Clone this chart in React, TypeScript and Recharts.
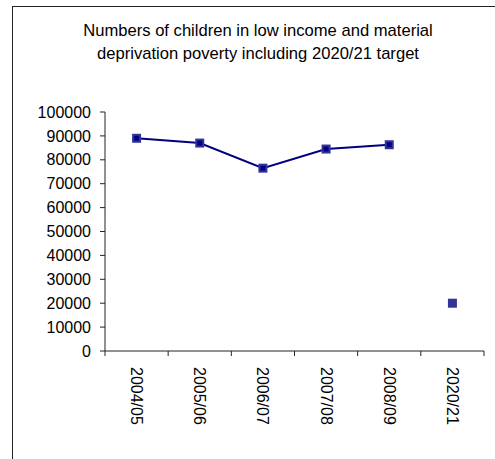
import React from 'react';
import { LineChart, Line, XAxis, YAxis } from 'recharts';

// financial years on the category axis
const years = ['2004/05', '2005/06', '2006/07', '2007/08', '2008/09', '2020/21'];
// children in low income and material deprivation, recorded years
const actual = [89000, 87000, 76500, 84500, 86300, null];
// 2020/21 target
const target = [null, null, null, null, null, 20000];
const yTicks = [0, 10000, 20000, 30000, 40000, 50000, 60000, 70000, 80000, 90000, 100000];

const FONT = '"Liberation Sans", Arial, sans-serif';

// points sit in the middle of each category slot (numeric axis, slots 0..n)
const data = years.map((year, i) => ({
  pos: i + 0.5,
  year,
  actual: actual[i],
  target: target[i],
}));

// ticks at slot boundaries (integers) get a tick mark, slot centres get the year label
const xTicks = Array.from({ length: years.length * 2 + 1 }, (_, i) => i / 2);

const SlotTick = (props: any) => {
  const { x, y, payload } = props;
  const v = payload.value as number;
  if (Number.isInteger(v)) {
    return <line x1={x} y1={y} x2={x} y2={y + 5} stroke="#222" strokeWidth={1} />;
  }
  const label = years[Math.floor(v)];
  return (
    <text
      transform={`translate(${x}, ${y + 16}) rotate(90)`}
      textAnchor="start"
      dominantBaseline="central"
      fontSize={16}
      fontFamily={FONT}
      fill="#000"
    >
      {label}
    </text>
  );
};

const ActualDot = (props: any) => {
  const { cx, cy, value } = props;
  if (value == null || cx == null || cy == null) return null;
  return (
    <g>
      <rect x={cx - 4.5} y={cy - 4.5} width={9} height={9} fill="#333399" />
      <rect x={cx - 2.5} y={cy - 2.5} width={5} height={5} fill="#000080" />
    </g>
  );
};

const TargetDot = (props: any) => {
  const { cx, cy, value } = props;
  if (value == null || cx == null || cy == null) return null;
  return <rect x={cx - 4.5} y={cy - 4.5} width={9} height={9} fill="#333399" />;
};

export default function App() {
  return (
    <div
      style={{
        position: 'absolute',
        left: 0,
        top: 0,
        width: 495,
        height: 459,
        background: '#fff',
        overflow: 'hidden',
        fontFamily: FONT,
      }}
    >
      <div
        style={{
          position: 'absolute',
          left: 12,
          top: 6,
          width: 520,
          height: 480,
          border: '1px solid #222',
        }}
      />
      <div
        style={{
          position: 'absolute',
          left: 48,
          top: 18.5,
          width: 420,
          textAlign: 'center',
          fontSize: 16.6,
          lineHeight: '23.5px',
          color: '#000',
        }}
      >
        Numbers of children in low income and material
        <br />
        deprivation poverty including 2020/21 target
      </div>
      <div style={{ position: 'absolute', left: 0, top: 0 }}>
        <LineChart
          width={495}
          height={459}
          data={data}
          margin={{ top: 112, right: 11, bottom: 0, left: 0 }}
        >
          <XAxis
            dataKey="pos"
            type="number"
            domain={[0, years.length]}
            ticks={xTicks}
            interval={0}
            tick={<SlotTick />}
            tickLine={false}
            tickSize={0}
            tickMargin={0}
            height={108}
            axisLine={{ stroke: '#222' }}
          />
          <YAxis
            domain={[0, 100000]}
            ticks={yTicks}
            interval={0}
            width={105}
            tickSize={5}
            tickMargin={9}
            tickLine={{ stroke: '#222' }}
            axisLine={{ stroke: '#222' }}
            tick={{ fontSize: 16, fontFamily: FONT, fill: '#000' }}
          />
          <Line
            dataKey="actual"
            stroke="#000080"
            strokeWidth={2}
            dot={<ActualDot />}
            activeDot={false}
            isAnimationActive={false}
            connectNulls={false}
          />
          <Line
            dataKey="target"
            stroke="none"
            dot={<TargetDot />}
            activeDot={false}
            isAnimationActive={false}
          />
        </LineChart>
      </div>
    </div>
  );
}
